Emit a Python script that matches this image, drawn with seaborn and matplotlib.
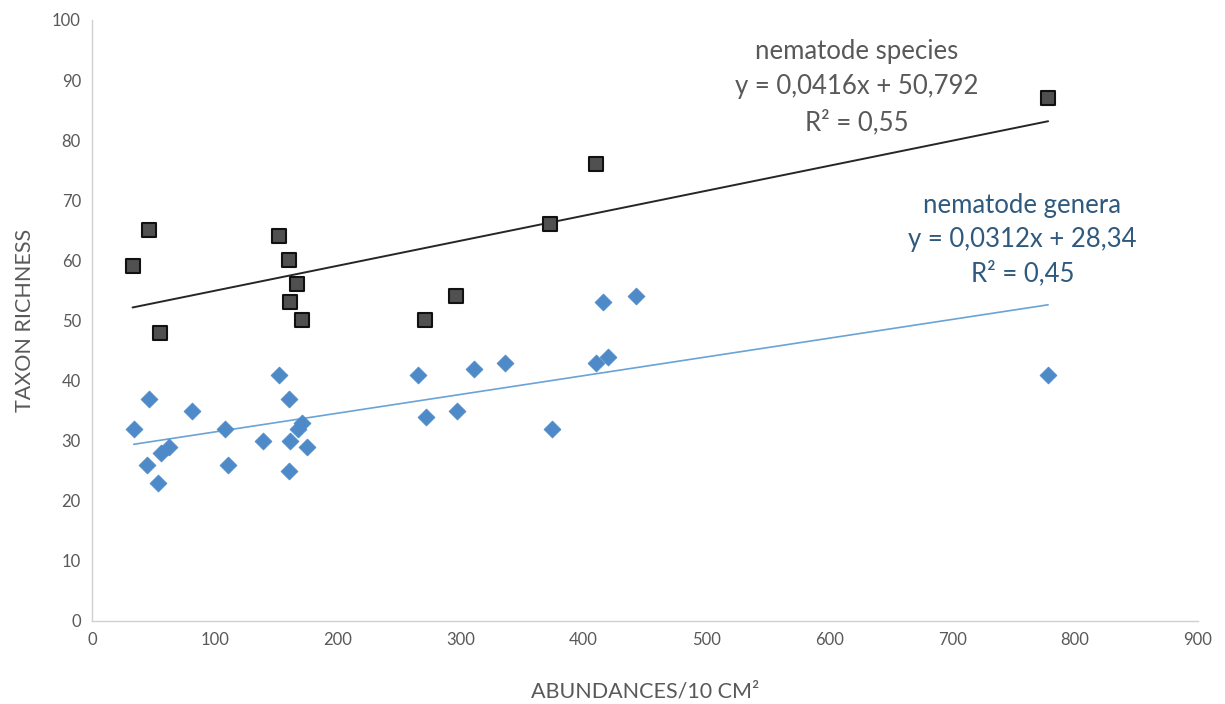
import numpy as np
import pandas as pd
import matplotlib
matplotlib.use("Agg")
import matplotlib.pyplot as plt
import seaborn as sns

# Nematode species richness vs. abundance
species_x = [33, 46, 55, 152, 160, 167, 161, 171, 271, 296, 373, 410, 778]
species_y = [59, 65, 48, 64, 60, 56, 53, 50, 50, 54, 66, 76, 87]

# Nematode genera richness vs. abundance
genera_x = [34, 46, 45, 54, 56, 63, 81, 108, 111, 139, 152, 160, 161, 160,
            168, 171, 175, 265, 272, 297, 311, 336, 374, 410, 420, 416, 443, 778]
genera_y = [32, 37, 26, 23, 28, 29, 35, 32, 26, 30, 41, 37, 30, 25,
            32, 33, 29, 41, 34, 35, 42, 43, 32, 43, 44, 53, 54, 41]

# Linear trend equations (slope, intercept, R²)
species_fit = (0.0416, 50.792, 0.55)
genera_fit = (0.0312, 28.34, 0.45)

x_ticks = list(range(0, 901, 100))
y_ticks = list(range(0, 101, 10))

sns.set_theme(style="white")
plt.rcParams["font.family"] = ["Lato", "DejaVu Sans"]

fig = plt.figure(figsize=(12.25, 7.04), dpi=100)
ax = fig.add_axes([0.0751, 0.1179, 0.9029, 0.8537])

label_gray = "#595959"
blue = "#4e8ac8"
text_blue = "#2f5a7e"


def trend_frame(xs, fit):
    slope, intercept, _ = fit
    xr = np.array([min(xs), max(xs)], dtype=float)
    return pd.DataFrame({"x": xr, "y": slope * xr + intercept})


sp = trend_frame(species_x, species_fit)
ge = trend_frame(genera_x, genera_fit)
sns.lineplot(data=sp, x="x", y="y", ax=ax, color="#262626", linewidth=1.4, zorder=2)
sns.lineplot(data=ge, x="x", y="y", ax=ax, color="#6aa3d6", linewidth=1.2, zorder=2)

sns.scatterplot(x=genera_x, y=genera_y, ax=ax, marker="D", s=75,
                color=blue, edgecolor=blue, linewidth=0.5, zorder=3)
sns.scatterplot(x=species_x, y=species_y, ax=ax, marker="s", s=100,
                color="#505050", edgecolor="#111111", linewidth=1.5, zorder=3)

ax.set_xlim(0, 900)
ax.set_ylim(0, 100)
ax.set_xticks(x_ticks)
ax.set_yticks(y_ticks)
ax.tick_params(axis="both", labelsize=12, labelcolor=label_gray, length=0, pad=8)

for side in ("top", "right"):
    ax.spines[side].set_visible(False)
for side in ("left", "bottom"):
    ax.spines[side].set_color("#d0d0d0")
    ax.spines[side].set_linewidth(1.0)

ax.set_xlabel("ABUNDANCES/10 CM²", fontsize=15.5, color=label_gray, labelpad=24)
ax.set_ylabel("TAXON RICHNESS", fontsize=15.5, color=label_gray, labelpad=12)


def fmt(v, nd):
    return f"{v:.{nd}f}".replace(".", ",")


sp_lines = ["nematode species",
            f"y = {fmt(species_fit[0], 4)}x + {fmt(species_fit[1], 3)}",
            f"R² = {fmt(species_fit[2], 2)}"]
ge_lines = ["nematode genera",
            f"y = {fmt(genera_fit[0], 4)}x + {fmt(genera_fit[1], 2)}",
            f"R² = {fmt(genera_fit[2], 2)}"]

for i, t in enumerate(sp_lines):
    ax.text(622, 94.8 - i * 5.9, t, ha="center", va="center",
            fontsize=18.5, color=label_gray)
for i, t in enumerate(ge_lines):
    ax.text(757, 69.1 - i * 5.6, t, ha="center", va="center",
            fontsize=18.5, color=text_blue)

fig.savefig("out.png", dpi=100, facecolor="white")
